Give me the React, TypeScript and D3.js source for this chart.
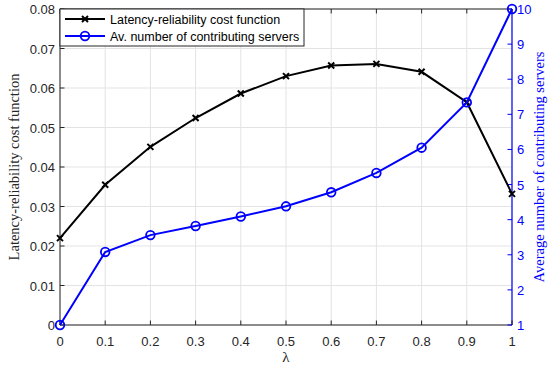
import React, { useRef, useEffect } from "react";
import * as d3 from "d3";

const lambdas = [0, 0.1, 0.2, 0.3, 0.4, 0.5, 0.6, 0.7, 0.8, 0.9, 1];
const costValues = [0.022, 0.0355, 0.0451, 0.0524, 0.0586, 0.063, 0.0657, 0.0661, 0.0641, 0.0564, 0.0332];
const serverValues = [1, 3.08, 3.56, 3.82, 4.09, 4.38, 4.78, 5.33, 6.05, 7.34, 10];
const xTicks = [0, 0.1, 0.2, 0.3, 0.4, 0.5, 0.6, 0.7, 0.8, 0.9, 1];
const leftTicks = [0, 0.01, 0.02, 0.03, 0.04, 0.05, 0.06, 0.07, 0.08];
const rightTicks = [1, 2, 3, 4, 5, 6, 7, 8, 9, 10];
const legendLabels = ["Latency-reliability cost function", "Av. number of contributing servers"];

const W = 552, H = 368;
const M = { left: 60, right: 512, top: 9, bottom: 325 };
const tickFont = "Liberation Sans, Arial, sans-serif";
const serifFont = "Liberation Serif, Times New Roman, serif";

export default function App() {
  const svgRef = useRef<SVGSVGElement>(null);

  useEffect(() => {
    const svg = d3.select(svgRef.current);
    svg.selectAll("*").remove();

    const x = d3.scaleLinear().domain([0, 1]).range([M.left, M.right]);
    const yL = d3.scaleLinear().domain([0, 0.08]).range([M.bottom, M.top]);
    const yR = d3.scaleLinear().domain([1, 10]).range([M.bottom, M.top]);

    svg.append("rect").attr("x", M.left).attr("y", M.top)
      .attr("width", M.right - M.left).attr("height", M.bottom - M.top).attr("fill", "#fff");

    // grid
    const grid = svg.append("g").attr("stroke", "#e3e3e3").attr("stroke-width", 1);
    xTicks.forEach((t) => {
      grid.append("line").attr("x1", x(t)).attr("x2", x(t)).attr("y1", M.top).attr("y2", M.bottom);
    });
    leftTicks.forEach((t) => {
      grid.append("line").attr("x1", M.left).attr("x2", M.right).attr("y1", yL(t)).attr("y2", yL(t));
    });

    // axes
    const ax = svg.append("g");
    ax.append("line").attr("x1", M.left).attr("x2", M.right).attr("y1", M.bottom).attr("y2", M.bottom)
      .attr("stroke", "#262626");
    ax.append("line").attr("x1", M.left).attr("x2", M.right).attr("y1", M.top).attr("y2", M.top)
      .attr("stroke", "#262626");
    ax.append("line").attr("x1", M.left).attr("x2", M.left).attr("y1", M.top).attr("y2", M.bottom)
      .attr("stroke", "#262626");
    ax.append("line").attr("x1", M.right).attr("x2", M.right).attr("y1", M.top).attr("y2", M.bottom)
      .attr("stroke", "#0000ff").attr("stroke-width", 1.2);

    xTicks.forEach((t) => {
      ax.append("line").attr("x1", x(t)).attr("x2", x(t)).attr("y1", M.bottom).attr("y2", M.bottom - 4.5).attr("stroke", "#262626");
      ax.append("line").attr("x1", x(t)).attr("x2", x(t)).attr("y1", M.top).attr("y2", M.top + 4.5).attr("stroke", "#262626");
      ax.append("text").attr("x", x(t)).attr("y", M.bottom + 21).attr("text-anchor", "middle")
        .attr("font-family", tickFont).attr("font-size", 13).attr("fill", "#262626").text(String(t));
    });
    leftTicks.forEach((t) => {
      ax.append("line").attr("x1", M.left).attr("x2", M.left + 4.5).attr("y1", yL(t)).attr("y2", yL(t)).attr("stroke", "#262626");
      ax.append("text").attr("x", M.left - 5).attr("y", yL(t) + 5).attr("text-anchor", "end")
        .attr("font-family", tickFont).attr("font-size", 13).attr("fill", "#262626").text(t === 0 ? "0" : t.toFixed(2));
    });
    rightTicks.forEach((t) => {
      ax.append("line").attr("x1", M.right).attr("x2", M.right - 4.5).attr("y1", yR(t)).attr("y2", yR(t)).attr("stroke", "#0000ff");
      ax.append("text").attr("x", M.right + 5).attr("y", yR(t) + 5).attr("text-anchor", "start")
        .attr("font-family", tickFont).attr("font-size", 13).attr("fill", "#0000ff").text(String(t));
    });

    // axis labels
    svg.append("text").attr("transform", `translate(19,${(M.top + M.bottom) / 2}) rotate(-90)`)
      .attr("text-anchor", "middle").attr("font-family", serifFont).attr("font-size", 14.5).attr("fill", "#262626")
      .text("Latency-reliability cost function");
    svg.append("text").attr("transform", `translate(544,${(M.top + M.bottom) / 2}) rotate(-90)`)
      .attr("text-anchor", "middle").attr("font-family", serifFont).attr("font-size", 14.5).attr("fill", "#0000ff")
      .text("Average number of contributing servers");
    svg.append("text").attr("x", (M.left + M.right) / 2).attr("y", 362).attr("text-anchor", "middle")
      .attr("font-family", serifFont).attr("font-size", 15).attr("fill", "#262626").text("λ");

    // series
    const lineL = d3.line<number>().x((d, i) => x(lambdas[i])).y((d) => yL(d));
    const lineR = d3.line<number>().x((d, i) => x(lambdas[i])).y((d) => yR(d));

    svg.append("path").attr("d", lineL(costValues)).attr("fill", "none").attr("stroke", "#000").attr("stroke-width", 2);
    const crossPath = (cx: number, cy: number, s: number) =>
      `M${cx - s},${cy - s}L${cx + s},${cy + s}M${cx - s},${cy + s}L${cx + s},${cy - s}`;
    costValues.forEach((v, i) => {
      svg.append("path").attr("d", crossPath(x(lambdas[i]), yL(v), 3)).attr("stroke", "#000").attr("stroke-width", 2);
    });

    svg.append("path").attr("d", lineR(serverValues)).attr("fill", "none").attr("stroke", "#0000ff").attr("stroke-width", 2);
    serverValues.forEach((v, i) => {
      svg.append("circle").attr("cx", x(lambdas[i])).attr("cy", yR(v)).attr("r", 4.3)
        .attr("fill", "none").attr("stroke", "#0000ff").attr("stroke-width", 1.8);
    });

    // legend
    const lg = svg.append("g");
    lg.append("rect").attr("x", M.left).attr("y", M.top).attr("width", 244).attr("height", 37)
      .attr("fill", "#fff").attr("stroke", "#262626").attr("stroke-width", 1);
    const rows = [
      { y: M.top + 10, color: "#000" },
      { y: M.top + 27, color: "#0000ff" },
    ];
    rows.forEach((r, i) => {
      lg.append("line").attr("x1", M.left + 5).attr("x2", M.left + 45).attr("y1", r.y).attr("y2", r.y)
        .attr("stroke", r.color).attr("stroke-width", 2);
      if (i === 0) {
        lg.append("path").attr("d", crossPath(M.left + 25, r.y, 3)).attr("stroke", r.color).attr("stroke-width", 2);
      } else {
        lg.append("circle").attr("cx", M.left + 25).attr("cy", r.y).attr("r", 4.3)
          .attr("fill", "none").attr("stroke", r.color).attr("stroke-width", 1.8);
      }
      lg.append("text").attr("x", M.left + 50).attr("y", r.y + 4.5).attr("font-family", tickFont)
        .attr("font-size", 12.5).attr("fill", "#000").text(legendLabels[i]);
    });
  }, []);

  return (
    <svg ref={svgRef} width={W} height={H} style={{ position: "absolute", left: 0, top: 0, background: "#fff" }} />
  );
}
